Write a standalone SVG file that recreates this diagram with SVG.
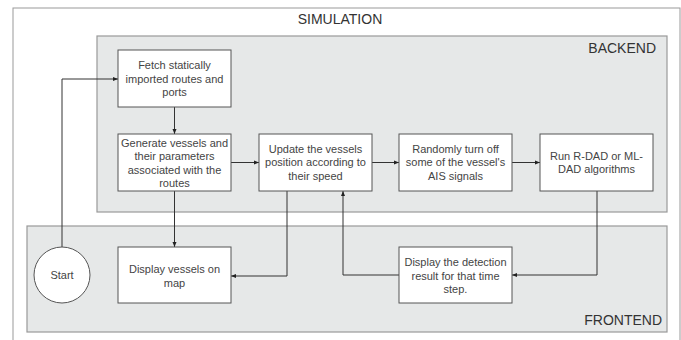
<svg xmlns="http://www.w3.org/2000/svg" width="681" height="340" viewBox="0 0 681 340">
<defs>
<marker id="arr" viewBox="0 0 10 10" refX="10" refY="5" markerWidth="5" markerHeight="5" orient="auto" markerUnits="userSpaceOnUse">
<path d="M0,1 L10,5 L0,9 z" fill="#222"/>
</marker>
<style>
.t{font-family:"Liberation Sans",Arial,sans-serif;font-size:11px;fill:#444;text-anchor:middle}
.h{font-family:"Liberation Sans",Arial,sans-serif;font-size:14px;fill:#333}
.n{fill:#fff;stroke:#555;stroke-width:1}
.c{fill:none;stroke:#333;stroke-width:1;marker-end:url(#arr)}
.g{fill:#e6e8e8;stroke:#999;stroke-width:1.2}
</style>
</defs>
<rect width="681" height="340" fill="#fff"/>
<g id="simulation">
<rect x="13" y="8" width="667" height="340" fill="#fff" stroke="#999" stroke-width="1"/>
<text class="h" x="340" y="24" text-anchor="middle">SIMULATION</text>
</g>
<g id="backend">
<rect class="g" x="97" y="36" width="570" height="176"/>
<text class="h" x="656" y="53" text-anchor="end">BACKEND</text>
</g>
<g id="frontend">
<rect class="g" x="27" y="226" width="640" height="106"/>
<text class="h" x="662" y="325" text-anchor="end">FRONTEND</text>
</g>
<g id="connectors">
<path class="c" d="M62,247 V79 H118"/>
<path class="c" d="M174.5,107 V134"/>
<path class="c" d="M231,162.5 H259"/>
<path class="c" d="M372,162.5 H399"/>
<path class="c" d="M512,162.5 H540"/>
<path class="c" d="M174.5,191 V247"/>
<path class="c" d="M287,191 V276 H231"/>
<path class="c" d="M597,191 V275 H512"/>
<path class="c" d="M399,275 H343 V191"/>
</g>
<g id="start">
<circle cx="62" cy="275" r="28" fill="#fff" stroke="#555"/>
<text class="t" x="62" y="279">Start</text>
</g>
<g id="fetch">
<rect class="n" x="118" y="50" width="113" height="57"/>
<text class="t" x="174.5" y="69">Fetch statically</text>
<text class="t" x="174.5" y="83">imported routes and</text>
<text class="t" x="174.5" y="96">ports</text>
</g>
<g id="generate">
<rect class="n" x="118" y="134" width="113" height="57"/>
<text class="t" x="174.5" y="147">Generate vessels and</text>
<text class="t" x="174.5" y="160">their parameters</text>
<text class="t" x="174.5" y="174">associated with the</text>
<text class="t" x="174.5" y="187">routes</text>
</g>
<g id="update">
<rect class="n" x="259" y="134" width="113" height="57"/>
<text class="t" x="315.5" y="153">Update the vessels</text>
<text class="t" x="315.5" y="166">position according to</text>
<text class="t" x="315.5" y="180">their speed</text>
</g>
<g id="randomly">
<rect class="n" x="399" y="134" width="113" height="57"/>
<text class="t" x="455.5" y="153">Randomly turn off</text>
<text class="t" x="455.5" y="166">some of the vessel's</text>
<text class="t" x="455.5" y="180">AIS signals</text>
</g>
<g id="run">
<rect class="n" x="540" y="134" width="113" height="57"/>
<text class="t" x="596.5" y="160">Run R-DAD or ML-</text>
<text class="t" x="596.5" y="173">DAD algorithms</text>
</g>
<g id="display-vessels">
<rect class="n" x="118" y="247" width="113" height="56"/>
<text class="t" x="174.5" y="273">Display vessels on</text>
<text class="t" x="174.5" y="287">map</text>
</g>
<g id="display-detection">
<rect class="n" x="399" y="247" width="113" height="56"/>
<text class="t" x="455.5" y="266">Display the detection</text>
<text class="t" x="455.5" y="280">result for that time</text>
<text class="t" x="455.5" y="293">step.</text>
</g>
</svg>
